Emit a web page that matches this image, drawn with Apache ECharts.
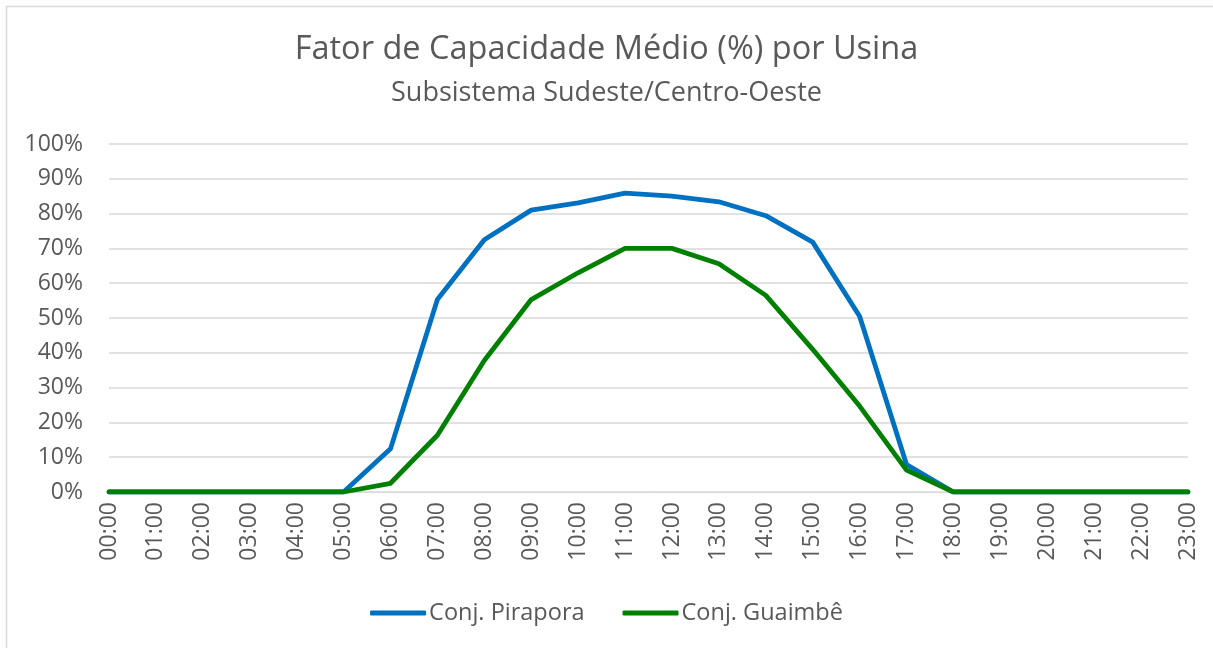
<!DOCTYPE html>
<html>
<head>
<meta charset="utf-8">
<script src="https://cdn.jsdelivr.net/npm/echarts@6/dist/echarts.min.js"></script>
<style>
  html, body { margin: 0; padding: 0; background: #fff; }
  #chart { width: 1213px; height: 648px; }
</style>
</head>
<body>
<div id="chart"></div>
<script>
// Horas do dia (eixo das categorias)
const hours = ['00:00','01:00','02:00','03:00','04:00','05:00','06:00','07:00','08:00','09:00','10:00','11:00',
               '12:00','13:00','14:00','15:00','16:00','17:00','18:00','19:00','20:00','21:00','22:00','23:00'];

// Fator de capacidade médio (%) por hora
const pirapora = [0,0,0,0,0,0,12.4,55.3,72.5,81.0,83.1,85.9,85.0,83.4,79.4,71.8,50.5,7.9,0,0,0,0,0,0];
const guaimbe  = [0,0,0,0,0,0,2.5,16.3,37.8,55.3,63.0,70.0,70.0,65.6,56.5,41.0,24.7,6.3,0,0,0,0,0,0];

const seriesNames = ['Conj. Pirapora', 'Conj. Guaimbê'];
const seriesColors = ['#0070C0', '#008000'];

const FONT = '"Open Sans", "Noto Sans", sans-serif';
const TEXT = '#595959';

const chart = echarts.init(document.getElementById('chart'), null, { renderer: 'canvas' });

chart.setOption({
  animation: false,
  backgroundColor: '#fff',
  graphic: [{
    type: 'rect',
    shape: { x: 6.5, y: 6.5, width: 1230, height: 670 },
    style: { fill: 'none', stroke: '#D9D9D9', lineWidth: 1.5 },
    silent: true
  }],
  title: [{
    text: 'Fator de Capacidade Médio (%) por Usina',
    left: 'center',
    top: 28,
    textStyle: { fontFamily: FONT, fontSize: 32.5, fontWeight: 'normal', color: TEXT }
  }, {
    text: 'Subsistema Sudeste/Centro-Oeste',
    left: 'center',
    top: 75,
    textStyle: { fontFamily: FONT, fontSize: 27, fontWeight: 'normal', color: TEXT }
  }],
  legend: {
    bottom: 18,
    left: 'center',
    itemWidth: 56,
    itemHeight: 5,
    itemGap: 38,
    icon: 'roundRect',
    textStyle: { fontFamily: FONT, fontSize: 23.5, color: TEXT, padding: [0, 0, 0, -2] },
    data: seriesNames
  },
  grid: { left: 109, right: 25, top: 144, bottom: 156, containLabel: false },
  xAxis: {
    type: 'category',
    data: hours,
    boundaryGap: false,
    axisLine: { show: true, lineStyle: { color: '#D9D9D9', width: 1 } },
    axisTick: { show: false },
    axisLabel: {
      rotate: 90,
      interval: 0,
      margin: 10,
      fontFamily: FONT,
      fontSize: 23,
      color: TEXT
    }
  },
  yAxis: {
    type: 'value',
    min: 0,
    max: 100,
    interval: 10,
    axisLine: { show: false },
    axisTick: { show: false },
    splitLine: { lineStyle: { color: '#D9D9D9', width: 1.5 } },
    axisLabel: {
      margin: 26,
      fontFamily: FONT,
      fontSize: 23,
      color: TEXT,
      formatter: v => v + '%'
    }
  },
  series: [pirapora, guaimbe].map((d, i) => ({
    name: seriesNames[i],
    type: 'line',
    data: d,
    symbol: 'none',
    smooth: false,
    color: seriesColors[i],
    lineStyle: { width: 4.8, color: seriesColors[i], cap: 'round', join: 'round' }
  }))
});
</script>
</body>
</html>
